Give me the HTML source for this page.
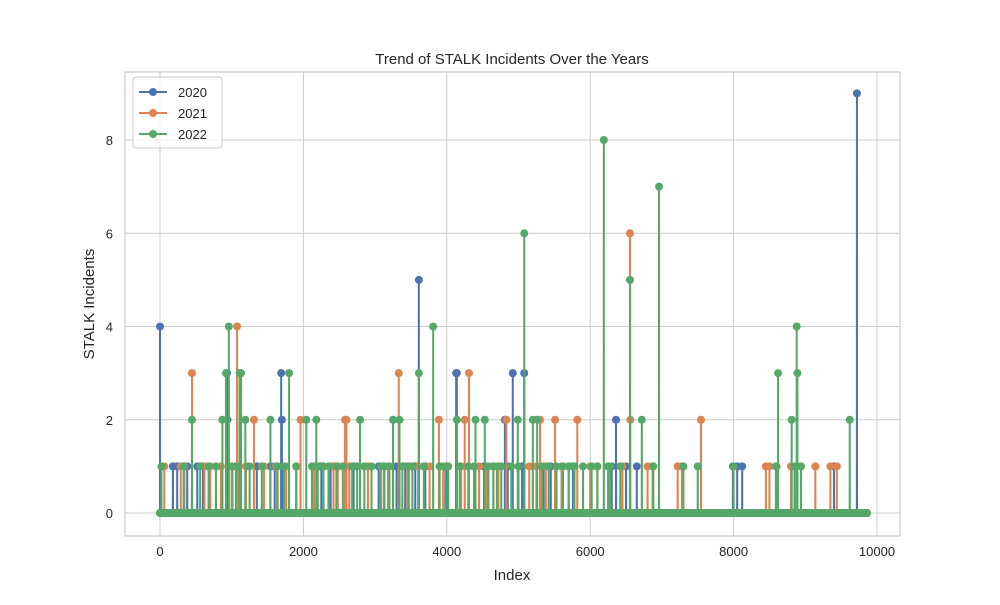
<!DOCTYPE html>
<html><head><meta charset="utf-8"><style>
body{margin:0;background:#fff;font-family:"Liberation Sans","DejaVu Sans",sans-serif}
</style></head><body>
<svg id="chart" width="1000" height="600" xmlns="http://www.w3.org/2000/svg" font-family="Liberation Sans, DejaVu Sans, sans-serif">
<rect width="1000" height="600" fill="#fff"/>
<g id="grid"></g><g id="series"></g><g id="axes"></g><g id="legend"></g>
</svg>
<script>
const N = 9860;
const xTicks = [0,2000,4000,6000,8000,10000];
const yTicks = [0,2,4,6,8];
const seriesNames = ["2020","2021","2022"];
const idx2020 = [0,935,940,1690,1700,3610,4130,4140,4810,4920,5080,6360,9720,180,240,380,520,600,680,1350,1540,1600,1710,2250,2380,2700,3050,3300,3420,3560,3700,4000,4520,4850,5050,5350,5450,5700,5760,6300,6500,6650,7990,8050,8120,9400];
const val2020 = [4,3,2,3,2,5,3,3,2,3,3,2,9,1,1,1,1,1,1,1,1,1,1,1,1,1,1,1,1,1,1,1,1,1,1,1,1,1,1,1,1,1,1,1,1,1];
const idx2021 = [446,1075,1310,1960,2580,2600,3330,3890,4310,4250,4830,5300,5510,5820,6555,6560,7545,60,290,340,620,700,850,1000,1200,1450,1620,1900,2150,2420,2640,2900,3120,3450,3600,3950,4200,4450,4650,4720,5150,5250,5380,5780,6000,6100,6450,6800,6870,7220,7280,8450,8500,8600,8800,9140,9350,9440,1100,1760,2480,3180,3760,4560,5600];
const val2021 = [3,4,2,2,2,2,3,2,3,2,2,2,2,2,6,2,2,1,1,1,1,1,1,1,1,1,1,1,1,1,1,1,1,1,1,1,1,1,1,1,1,1,1,1,1,1,1,1,1,1,1,1,1,1,1,1,1,1,1,1,1,1,1,1,1];
const idx2022 = [446,960,920,870,1130,1110,1190,1540,1800,2040,2180,2790,3250,3340,3610,3810,4140,4400,4530,4990,5080,5200,5260,6190,6555,6720,6960,8620,8810,8880,8890,9620,20,330,560,680,1010,1250,1640,1730,1900,2200,2350,2460,2550,2680,2850,2950,3080,3200,3380,3520,3680,3900,4020,4180,4380,4580,4650,4700,4900,5000,5420,5620,5700,5900,6020,6280,6420,6880,7300,7500,8000,8590,8850,8940,780,1060,1420,2120,2280,2750,3130,3470,3980,4300,4760,5330,5530,5780,6100,6250];
const val2022 = [2,4,3,2,3,3,2,2,3,2,2,2,2,2,3,4,2,2,2,2,6,2,2,8,5,2,7,3,2,4,3,2,1,1,1,1,1,1,1,1,1,1,1,1,1,1,1,1,1,1,1,1,1,1,1,1,1,1,1,1,1,1,1,1,1,1,1,1,1,1,1,1,1,1,1,1,1,1,1,1,1,1,1,1,1,1,1,1,1,1,1,1];
const colors = ["#4c72b0","#dd8452","#55a868"];
const L=125,R=900,T=72,B=536;
const x = v => 160 + v*(877-160)/10000;
const y = v => 513 - v*(513-140)/8;
const NS="http://www.w3.org/2000/svg";
function mk(tag,attrs,parent){const e=document.createElementNS(NS,tag);for(const k in attrs)e.setAttribute(k,attrs[k]);parent.appendChild(e);return e;}
const grid=document.getElementById('grid'),axes=document.getElementById('axes'),ser=document.getElementById('series'),leg=document.getElementById('legend');
xTicks.forEach(t=>{const l=mk('line',{x1:x(t),x2:x(t),y1:T,y2:B,stroke:'#cccccc','stroke-width':1},grid);

const tx=mk('text',{x:x(t),y:556,'text-anchor':'middle','font-size':13,fill:'#262626'},axes);tx.textContent=t;
});
yTicks.forEach(t=>{const l=mk('line',{x1:L,x2:R,y1:y(t),y2:y(t),stroke:'#cccccc','stroke-width':1},grid);

const tx=mk('text',{x:113,y:y(t)+5,'text-anchor':'end','font-size':13,fill:'#262626'},axes);tx.textContent=t;
});
const fr=mk('rect',{x:L,y:T,width:R-L,height:B-T,fill:'none',stroke:'#cccccc','stroke-width':1.2},axes);

const data=[[idx2020,val2020],[idx2021,val2021],[idx2022,val2022]];
data.forEach(([ix,vs],s)=>{
 const g=mk('g',{},ser);
 
 const pts=ix.map((v,i)=>[v,vs[i]]).sort((a,b)=>a[0]-b[0]);
 let d='M'+x(0)+','+y(0);
 pts.forEach(([i,v])=>{d+=' L'+x(Math.max(i-1,0))+','+y(0)+' L'+x(i)+','+y(v)+' L'+x(i+1)+','+y(0);});
 d+=' L'+x(N)+','+y(0);
 const p=mk('path',{d:d,fill:'none',stroke:colors[s],'stroke-width':2},g);
 
 const bl=mk('line',{x1:x(0),x2:x(N),y1:y(0),y2:y(0),stroke:colors[s],'stroke-width':8,'stroke-linecap':'round'},g);
 
 pts.forEach(([i,v])=>{const c=mk('circle',{cx:x(i),cy:y(v),r:4,fill:colors[s]},g);
  });
});
const lb=mk('rect',{x:133,y:77,width:89,height:71,rx:3,fill:'#fff',stroke:'#cccccc','fill-opacity':0.8},leg);

seriesNames.forEach((n,s)=>{const yy=92+s*21;
 const g=mk('g',{},leg);
 mk('line',{x1:139,x2:167,y1:yy,y2:yy,stroke:colors[s],'stroke-width':2},g);
 mk('circle',{cx:153,cy:yy,r:4,fill:colors[s]},g);
 const t=mk('text',{x:178,y:yy+5,'font-size':13,fill:'#262626'},g);t.textContent=n;});
const title=mk('text',{x:512,y:64,'text-anchor':'middle','font-size':15,fill:'#262626'},axes);title.textContent='Trend of STALK Incidents Over the Years';

const xt=mk('text',{x:512,y:580,'text-anchor':'middle','font-size':15,fill:'#262626'},axes);xt.textContent='Index';

const yt=mk('text',{x:0,y:0,'text-anchor':'middle','font-size':15,fill:'#262626',transform:'translate(94,304) rotate(-90)'},axes);yt.textContent='STALK Incidents';

</script>
</body></html>
